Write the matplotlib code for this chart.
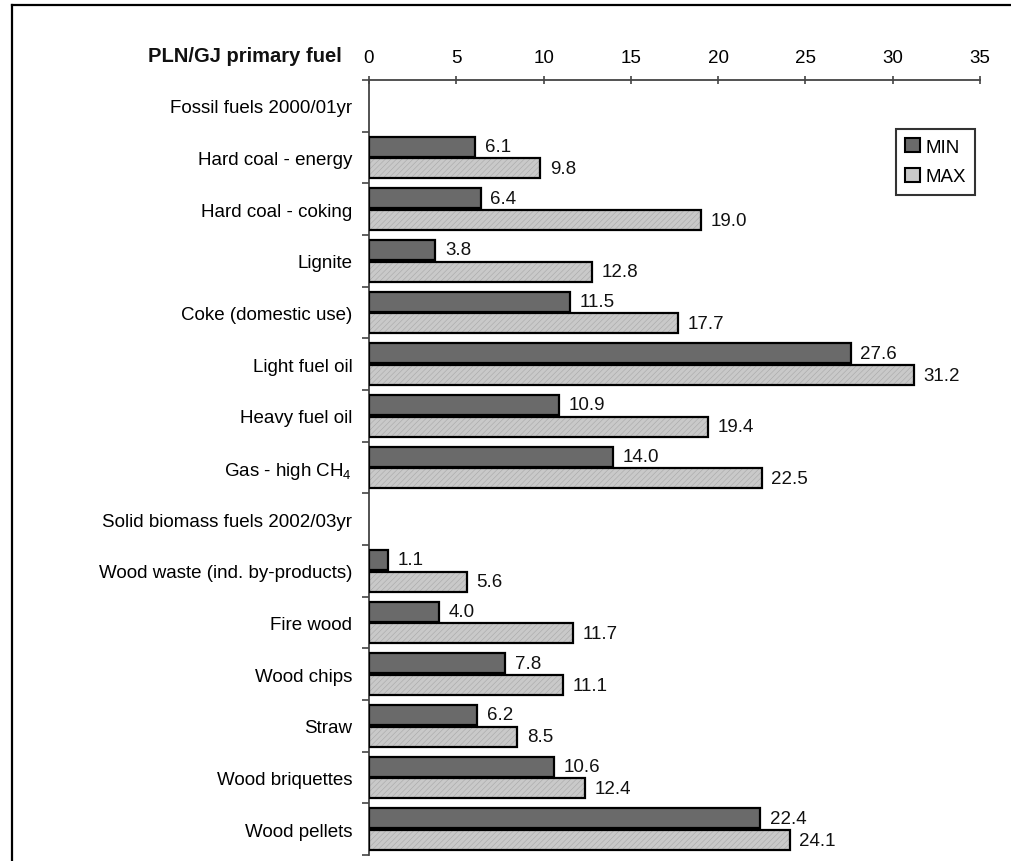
import matplotlib
matplotlib.use("Agg")
import matplotlib.pyplot as plt
import numpy as np
from matplotlib.patches import Patch
from matplotlib.lines import Line2D

plt.rcParams['font.family'] = ['Liberation Sans', 'DejaVu Sans']
plt.rcParams['mathtext.default'] = 'regular'
plt.rcParams['hatch.linewidth'] = 0.4

categories = [
    "Fossil fuels 2000/01yr",
    "Hard coal - energy",
    "Hard coal - coking",
    "Lignite",
    "Coke (domestic use)",
    "Light fuel oil",
    "Heavy fuel oil",
    "Gas - high CH$_4$",
    "Solid biomass fuels 2002/03yr",
    "Wood waste (ind. by-products)",
    "Fire wood",
    "Wood chips",
    "Straw",
    "Wood briquettes",
    "Wood pellets",
]
min_vals = [None, 6.1, 6.4, 3.8, 11.5, 27.6, 10.9, 14.0, None, 1.1, 4.0, 7.8, 6.2, 10.6, 22.4]
max_vals = [None, 9.8, 19.0, 12.8, 17.7, 31.2, 19.4, 22.5, None, 5.6, 11.7, 11.1, 8.5, 12.4, 24.1]
xticks = [0, 5, 10, 15, 20, 25, 30, 35]

FS = 13.5
W, H = 1012, 862
fig = plt.figure(figsize=(W / 100, H / 100), dpi=100)
ax = fig.add_axes([369 / W, 6 / H, (980 - 369) / W, (856 - 81) / H])

y = np.arange(len(categories))
h = 0.39
off_min, off_max = -0.21, 0.21

for i in range(len(categories)):
    if min_vals[i] is None:
        continue
    ax.barh(y[i] + off_min, min_vals[i], height=h, color='#6a6a6a',
            edgecolor='black', linewidth=1.6, zorder=3)
    ax.barh(y[i] + off_max, max_vals[i], height=h, color='#c9c9c9',
            edgecolor='#a8a8a8', linewidth=0, hatch='//////', zorder=3)
    ax.barh(y[i] + off_max, max_vals[i], height=h, fill=False,
            edgecolor='black', linewidth=1.6, zorder=4)
    ax.text(min_vals[i] + 0.55, y[i] + off_min, f"{min_vals[i]:.1f}",
            va='center', ha='left', fontsize=FS, color='#111111')
    ax.text(max_vals[i] + 0.55, y[i] + off_max, f"{max_vals[i]:.1f}",
            va='center', ha='left', fontsize=FS, color='#111111')

ax.set_xlim(0, 35)
ax.set_ylim(len(categories) - 0.5, -0.5)
ax.xaxis.tick_top()
ax.set_xticks(xticks)
ax.set_xticklabels([str(t) for t in xticks], fontsize=FS)
ax.tick_params(axis='x', direction='inout', length=6, width=1.2, color='#444444', pad=7)

ax.set_yticks(y)
ax.set_yticklabels(categories, fontsize=FS)
ax.set_yticks(np.arange(len(categories) + 1) - 0.5, minor=True)
ax.tick_params(axis='y', which='major', length=0, pad=12)
ax.tick_params(axis='y', which='minor', direction='out', length=5, width=1.2, color='#444444')

for s in ['right', 'bottom']:
    ax.spines[s].set_visible(False)
for s in ['top', 'left']:
    ax.spines[s].set_color('#444444')
    ax.spines[s].set_linewidth(1.3)

ax.text(-(369 - 342) / (980 - 369), 1.0 + 25 / (856 - 81), "PLN/GJ primary fuel",
        transform=ax.transAxes, ha='right', va='center', fontsize=14.5,
        fontweight='bold', color='#111111')

handles = [Patch(facecolor='#6a6a6a', edgecolor='black', linewidth=1.5, label='MIN'),
           Patch(facecolor='#c9c9c9', edgecolor='black', linewidth=1.5, label='MAX')]
leg = ax.legend(handles=handles, loc='upper right',
                bbox_to_anchor=((975 - 369) / (980 - 369), 1 - (130 - 81) / (856 - 81)),
                fontsize=FS, fancybox=False, frameon=True, borderaxespad=0,
                handlelength=0.75, handleheight=0.75, handletextpad=0.3,
                labelspacing=0.65, borderpad=0.5)
leg.get_frame().set_edgecolor('black')
leg.get_frame().set_linewidth(1.5)

# figure border (top and left)
fig.add_artist(Line2D([12 / W, 12 / W], [0, 1 - 6 / H], transform=fig.transFigure,
                      color='black', linewidth=1.6))
fig.add_artist(Line2D([12 / W, 1], [1 - 6 / H, 1 - 6 / H], transform=fig.transFigure,
                      color='black', linewidth=1.6))

fig.savefig("out.png", dpi=100)
